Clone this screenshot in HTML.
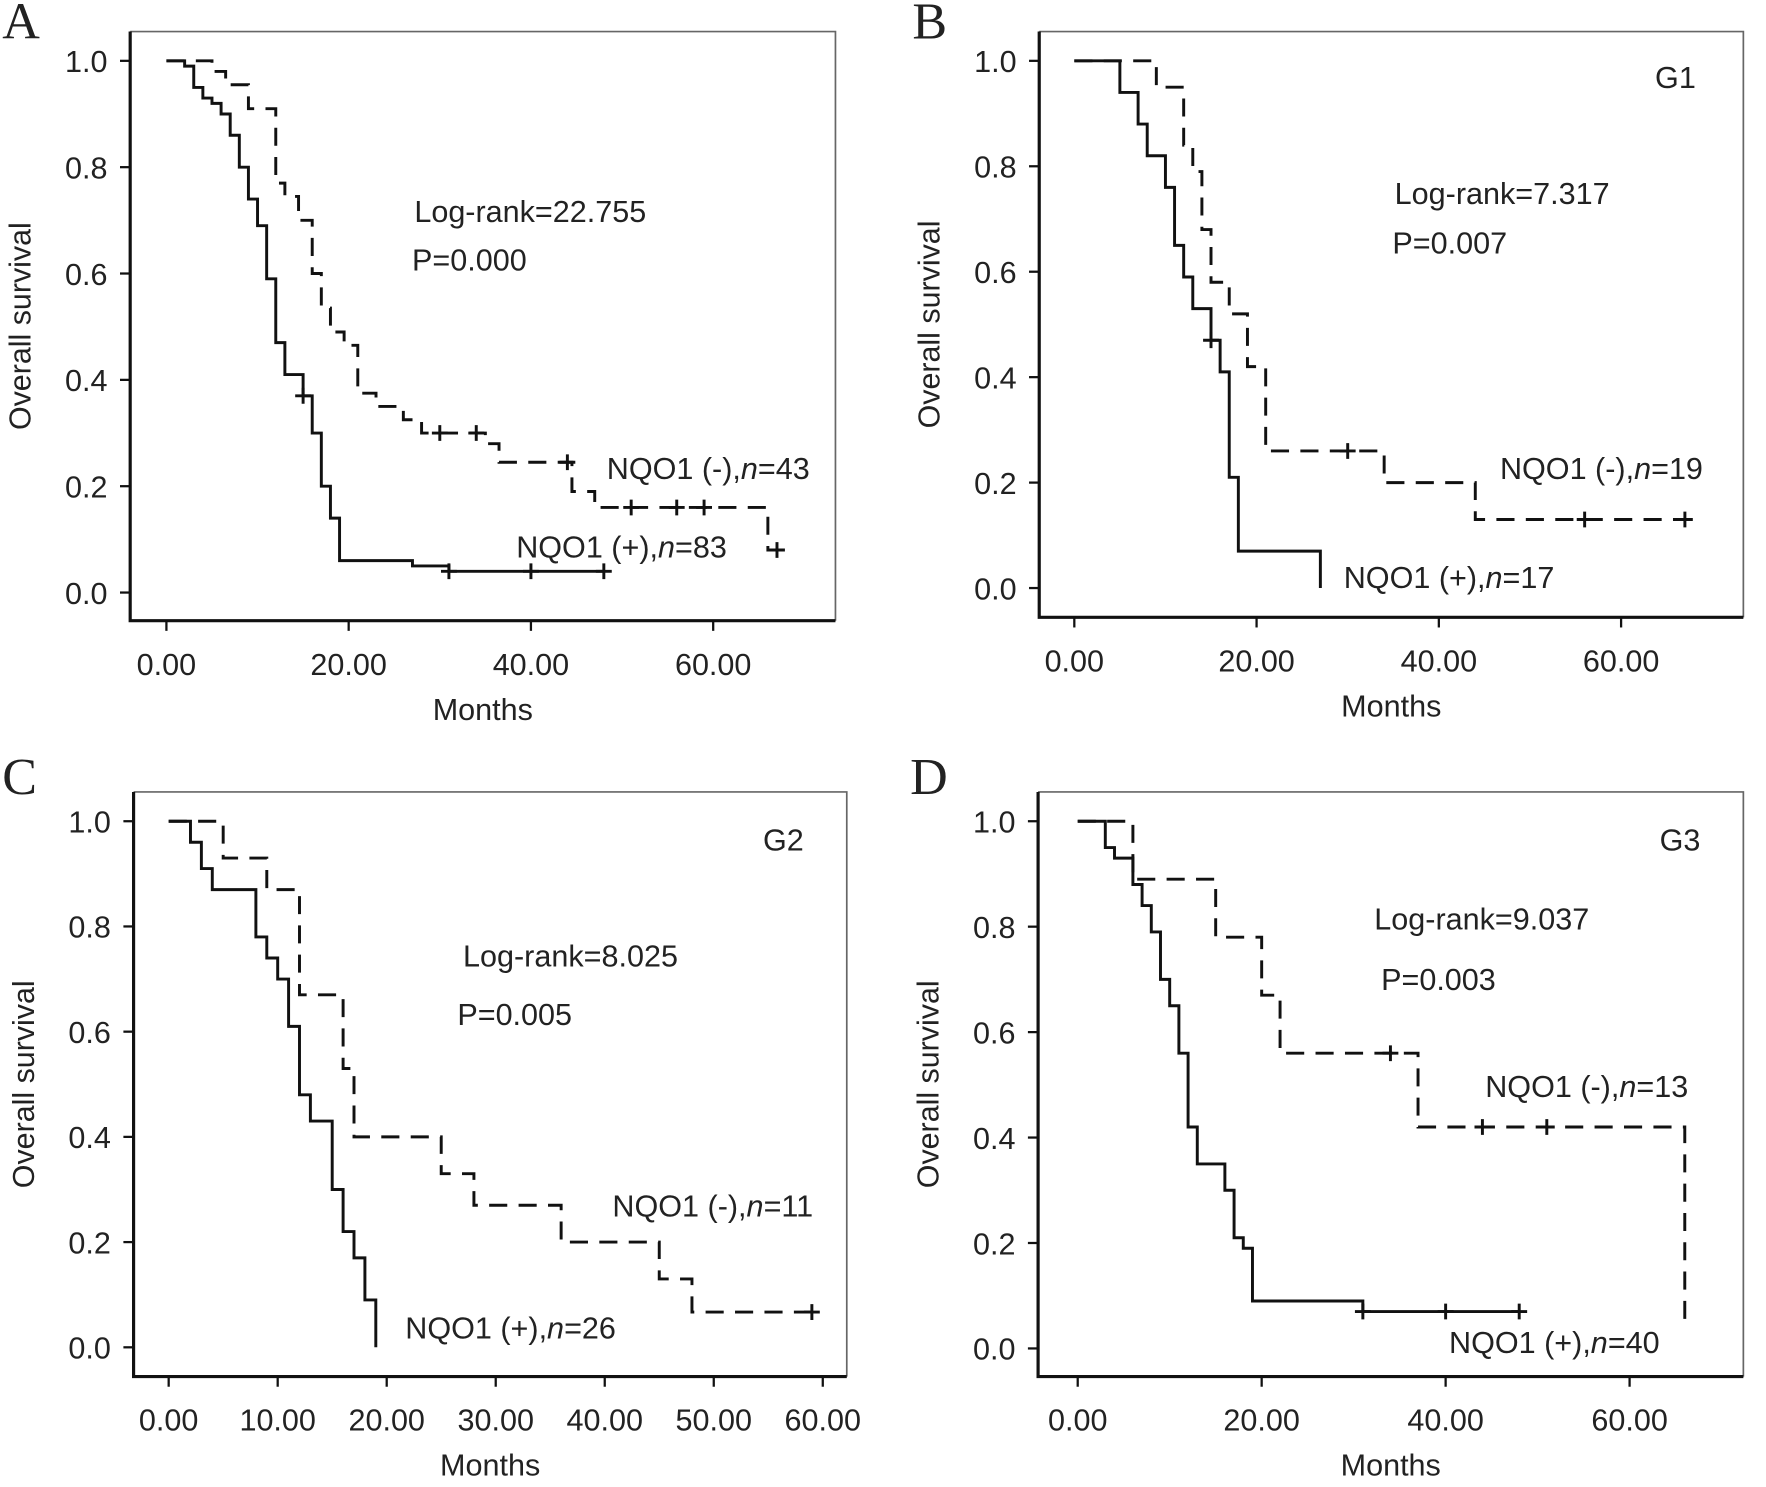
<!DOCTYPE html>
<html><head><meta charset="utf-8"><style>
html,body{margin:0;padding:0;background:#fff;}
svg{display:block;}
text{font-family:"Liberation Sans",Arial,sans-serif;fill:#222;}
</style></head><body>
<svg id="fig" width="1766" height="1487" viewBox="0 0 1560 1320" preserveAspectRatio="none" xmlns="http://www.w3.org/2000/svg"></svg>
<script>
// ---- Panel A data ----
const aPosT=[2,3,4,5,6,7,8,9,10,11,12,13,15,16,17,18,19,27,31];
const aPosS=[0.99,0.95,0.93,0.92,0.90,0.86,0.80,0.74,0.69,0.59,0.47,0.41,0.37,0.30,0.20,0.14,0.06,0.05,0.04];
const aPosEnd=48, aPosCens=[15,31,40,48];
const aNegT=[5,6.5,9,12,13,14.5,16,17,18,19.5,21,23,26,28,35,36.5,44.5,47,66];
const aNegS=[0.98,0.955,0.91,0.77,0.745,0.70,0.60,0.535,0.49,0.465,0.375,0.35,0.325,0.30,0.28,0.245,0.19,0.16,0.08];
const aNegEnd=67, aNegCens=[30,34,44,51,56,59,67];
// ---- Panel B data ----
const bPosT=[5,7,8,10,11,12,13,15,16,17,18,27];
const bPosS=[0.94,0.88,0.82,0.76,0.65,0.59,0.53,0.47,0.41,0.21,0.07,0];
const bPosEnd=27, bPosCens=[15];
const bNegT=[9,12,13,14,15,17,19,21,34,44];
const bNegS=[0.95,0.84,0.79,0.68,0.58,0.52,0.42,0.26,0.20,0.13];
const bNegEnd=67, bNegCens=[30,56,67];
// ---- Panel C data ----
const cPosT=[2,3,4,8,9,10,11,12,13,15,16,17,18,19];
const cPosS=[0.96,0.91,0.87,0.78,0.74,0.70,0.61,0.48,0.43,0.30,0.22,0.17,0.09,0];
const cPosEnd=19, cPosCens=[];
const cNegT=[5,9,12,16,17,25,28,36,45,48];
const cNegS=[0.93,0.87,0.67,0.53,0.40,0.33,0.27,0.20,0.13,0.067];
const cNegEnd=59, cNegCens=[59];
// ---- Panel D data ----
const dPosT=[3,4,6,7,8,9,10,11,12,13,16,17,18,19,31];
const dPosS=[0.95,0.93,0.88,0.84,0.79,0.70,0.65,0.56,0.42,0.35,0.30,0.21,0.19,0.09,0.07];
const dPosEnd=48, dPosCens=[31,40,48];
const dNegT=[6,15,20,22,37,66];
const dNegS=[0.89,0.78,0.67,0.56,0.42,0.05];
const dNegEnd=66, dNegCens=[34,44,51];
const yTicks=["0.0","0.2","0.4","0.6","0.8","1.0"];
const xTicksA=[0,20,40,60], xTicksC=[0,10,20,30,40,50,60];

const svg=document.getElementById('fig');
const NS='http://www.w3.org/2000/svg';
function mk(tag,attrs,parent){const e=document.createElementNS(NS,tag);for(const k in attrs)e.setAttribute(k,attrs[k]);(parent||svg).appendChild(e);return e;}
function txt(s,x,y,size,anchor,parent,family){const t=mk('text',{x:x,y:y,'font-size':size,'text-anchor':anchor||'start'},parent);if(family)t.style.fontFamily=family;t.textContent=s;return t;}

function panel(cfg){
  const g=mk('g',{});
  
  
  const X=t=>cfg.x0+t*cfg.ppm, Y=s=>cfg.y0-(cfg.y0-cfg.y1)*s;
  const L=txt(cfg.letter,cfg.lx,cfg.ly,46,'start',g,'"Liberation Serif",serif');
  
  const fr=mk('path',{d:`M${cfg.L} ${cfg.T}H${cfg.R}V${cfg.B}`,stroke:'#666','stroke-width':1.5,fill:'none'},g);
  
  const ax=mk('path',{d:`M${cfg.L} ${cfg.T}V${cfg.B}H${cfg.R}`,stroke:'#111','stroke-width':2.8,fill:'none'},g);
  
  yTicks.forEach((lab,i)=>{const v=parseFloat(lab),y=Y(v);
    mk('line',{x1:cfg.L-9,x2:cfg.L,y1:y,y2:y,stroke:'#111','stroke-width':2},g);
    const t=txt(lab,cfg.L-20,y+10,27,'end',g);});
  cfg.xt.forEach(v=>{const x=X(v);
    mk('line',{x1:x,x2:x,y1:cfg.B,y2:cfg.B+9,stroke:'#111','stroke-width':2},g);
    const t=txt(v.toFixed(2),x,cfg.B+48,27,'middle',g);});
  const xt=txt('Months',(cfg.L+cfg.R)/2,cfg.B+88,27,'middle',g);
  
  const cy=(cfg.T+cfg.B)/2;
  const yt=txt('Overall survival',cfg.L-88,cy,27,'middle',g);
  yt.setAttribute('transform',`rotate(-90 ${cfg.L-88} ${cy})`);
  
  cfg.series.forEach(s=>{
    let d=`M${X(0)} ${Y(1)}`;
    s.T.forEach((t,i)=>{d+=`H${X(t)}V${Y(s.S[i])}`;});
    d+=`H${X(s.end)}`;
    const p=mk('path',{d:d,stroke:'#111','stroke-width':2.6,fill:'none'},g);
    if(s.dash)p.setAttribute('stroke-dasharray','16 10');
    
    s.cens.forEach(c=>{let v=1;s.T.forEach((t,i)=>{if(t<=c)v=s.S[i];});
      const m=mk('path',{d:`M${X(c)} ${Y(v)-7}V${Y(v)+7}M${X(c)-7} ${Y(v)}H${X(c)+7}`,stroke:'#111','stroke-width':2.6},g);
      });
  });
  cfg.labels.forEach(l=>{const t=mk('text',{x:l[1],y:l[2],'font-size':27},g);
    
    const m=l[0].match(/^(.*,)n(=.*)$/);
    if(m){t.appendChild(document.createTextNode(m[1]));const ts=mk('tspan',{'font-style':'italic'},t);ts.textContent='n';t.appendChild(document.createTextNode(m[2]));}
    else t.textContent=l[0];});
}
panel({letter:'A',lx:2,ly:34,L:115,T:28,R:738,B:551,x0:147,ppm:8.05,y0:526,y1:54,xt:xTicksA,
 series:[{name:'nqo1-positive-curve',T:aPosT,S:aPosS,end:aPosEnd,cens:aPosCens},{name:'nqo1-negative-curve',T:aNegT,S:aNegS,end:aNegEnd,cens:aNegCens,dash:1}],
 labels:[['Log-rank=22.755',366,197],['P=0.000',364,240],['NQO1 (-),n=43',536,425],['NQO1 (+),n=83',456,495]]});
panel({letter:'B',lx:806,ly:34,L:918,T:28,R:1540,B:548,x0:949,ppm:8.05,y0:522,y1:54,xt:xTicksA,
 series:[{name:'nqo1-positive-curve',T:bPosT,S:bPosS,end:bPosEnd,cens:bPosCens},{name:'nqo1-negative-curve',T:bNegT,S:bNegS,end:bNegEnd,cens:bNegCens,dash:1}],
 labels:[['G1',1462,78],['Log-rank=7.317',1232,181],['P=0.007',1230,225],['NQO1 (-),n=19',1325,425],['NQO1 (+),n=17',1187,522]]});
panel({letter:'C',lx:2,ly:705,L:118,T:703,R:748,B:1222,x0:149,ppm:9.63,y0:1196,y1:729,xt:xTicksC,
 series:[{name:'nqo1-positive-curve',T:cPosT,S:cPosS,end:cPosEnd,cens:cPosCens},{name:'nqo1-negative-curve',T:cNegT,S:cNegS,end:cNegEnd,cens:cNegCens,dash:1}],
 labels:[['G2',674,755],['Log-rank=8.025',409,858],['P=0.005',404,910],['NQO1 (-),n=11',541,1080],['NQO1 (+),n=26',358,1188]]});
panel({letter:'D',lx:804,ly:705,L:917,T:703,R:1540,B:1222,x0:952,ppm:8.125,y0:1197,y1:729,xt:xTicksA,
 series:[{name:'nqo1-positive-curve',T:dPosT,S:dPosS,end:dPosEnd,cens:dPosCens},{name:'nqo1-negative-curve',T:dNegT,S:dNegS,end:dNegEnd,cens:dNegCens,dash:1}],
 labels:[['G3',1466,755],['Log-rank=9.037',1214,825],['P=0.003',1220,879],['NQO1 (-),n=13',1312,974],['NQO1 (+),n=40',1280,1201]]});
</script>
</body></html>
